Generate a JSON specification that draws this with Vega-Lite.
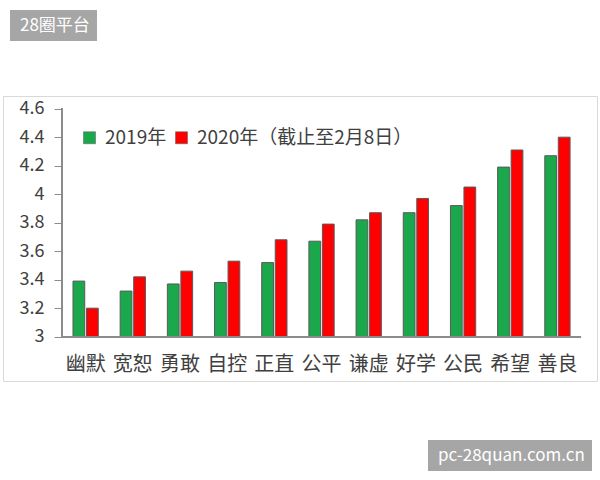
{
  "$schema": "https://vega.github.io/schema/vega-lite/v6.json",
  "width": 594,
  "height": 285,
  "autosize": {"type": "none"},
  "padding": {"left": 3, "top": 96, "right": 3, "bottom": 99},
  "background": "white",
  "config": {
    "font": "Noto Sans CJK SC",
    "view": {"stroke": "#d9d9d9", "strokeWidth": 1}
  },
  "data": {
    "values": [
      {"trait": "幽默", "year": "2019年", "value": 3.39},
      {"trait": "幽默", "year": "2020年（截止至2月8日）", "value": 3.20},
      {"trait": "宽恕", "year": "2019年", "value": 3.32},
      {"trait": "宽恕", "year": "2020年（截止至2月8日）", "value": 3.42},
      {"trait": "勇敢", "year": "2019年", "value": 3.37},
      {"trait": "勇敢", "year": "2020年（截止至2月8日）", "value": 3.46},
      {"trait": "自控", "year": "2019年", "value": 3.38},
      {"trait": "自控", "year": "2020年（截止至2月8日）", "value": 3.53},
      {"trait": "正直", "year": "2019年", "value": 3.52},
      {"trait": "正直", "year": "2020年（截止至2月8日）", "value": 3.68},
      {"trait": "公平", "year": "2019年", "value": 3.67},
      {"trait": "公平", "year": "2020年（截止至2月8日）", "value": 3.79},
      {"trait": "谦虚", "year": "2019年", "value": 3.82},
      {"trait": "谦虚", "year": "2020年（截止至2月8日）", "value": 3.87},
      {"trait": "好学", "year": "2019年", "value": 3.87},
      {"trait": "好学", "year": "2020年（截止至2月8日）", "value": 3.97},
      {"trait": "公民", "year": "2019年", "value": 3.92},
      {"trait": "公民", "year": "2020年（截止至2月8日）", "value": 4.05},
      {"trait": "希望", "year": "2019年", "value": 4.19},
      {"trait": "希望", "year": "2020年（截止至2月8日）", "value": 4.31},
      {"trait": "善良", "year": "2019年", "value": 4.27},
      {"trait": "善良", "year": "2020年（截止至2月8日）", "value": 4.40}
    ]
  },
  "encoding": {
    "x": {
      "field": "trait",
      "type": "nominal",
      "sort": null,
      "scale": {"paddingInner": 0, "paddingOuter": 0.795, "align": 0.787},
      "axis": {
        "orient": "bottom",
        "offset": -44,
        "domain": false,
        "ticks": false,
        "grid": false,
        "labelAngle": 0,
        "labelFontSize": 20,
        "labelColor": "#404040",
        "labelPadding": 17,
        "title": null
      }
    },
    "y": {
      "type": "quantitative",
      "scale": {"domain": [2.689, 4.689], "nice": false, "zero": false},
      "axis": {
        "orient": "left",
        "offset": -59,
        "values": [3, 3.2, 3.4, 3.6, 3.8, 4, 4.2, 4.4, 4.6],
        "format": "~g",
        "domain": false,
        "grid": false,
        "tickSize": 8,
        "tickColor": "#8c8c8c",
        "labelPadding": 10,
        "labelFontSize": 18,
        "labelColor": "#404040",
        "title": null
      }
    }
  },
  "resolve": {
    "scale": {"opacity": "independent"},
    "legend": {"opacity": "independent"}
  },
  "layer": [
    {
      "mark": {"type": "bar", "stroke": "#5a5a5a", "strokeWidth": 1},
      "encoding": {
        "y": {"field": "value", "type": "quantitative"},
        "y2": {"datum": 3},
        "xOffset": {
          "field": "year",
          "type": "nominal",
          "scale": {"paddingInner": 0.13, "paddingOuter": 0.81}
        },
        "color": {
          "field": "year",
          "type": "nominal",
          "scale": {
            "domain": ["2019年", "2020年（截止至2月8日）"],
            "range": ["#1BA84C", "#FF0000"]
          },
          "legend": {
            "orient": "none",
            "legendX": 77,
            "legendY": 32,
            "direction": "horizontal",
            "title": null,
            "symbolType": "square",
            "symbolSize": 144,
            "symbolStrokeColor": "#5a5a5a",
            "symbolStrokeWidth": 0.5,
            "labelFontSize": 19,
            "labelColor": "#404040",
            "labelOffset": 6,
            "columnPadding": 5,
            "labelLimit": 400,
            "padding": 0
          }
        }
      }
    },
    {
      "mark": {"type": "rule", "color": "#8c8c8c", "strokeWidth": 1},
      "encoding": {
        "x": {"datum": "幽默", "bandPosition": 0},
        "y": {"datum": 3},
        "y2": {"datum": 4.6},
        "opacity": {
          "datum": "28圈平台",
          "type": "ordinal",
          "scale": {"range": [1, 1]},
          "legend": {
            "orient": "none",
            "legendX": 7,
            "legendY": -86,
            "title": null,
            "fillColor": "#a6a6a6",
            "padding": 7,
            "symbolOpacity": 0,
            "symbolSize": 0,
            "labelOffset": -14,
            "labelColor": "white",
            "labelFontSize": 17,
            "labelLimit": 300
          }
        }
      }
    },
    {
      "mark": {"type": "rule", "color": "#8c8c8c", "strokeWidth": 1},
      "encoding": {
        "x": {"datum": "幽默", "bandPosition": 0},
        "x2": {"datum": "善良", "bandPosition": 1},
        "y": {"datum": 3},
        "opacity": {
          "datum": "pc-28quan.com.cn",
          "type": "ordinal",
          "scale": {"range": [1, 1]},
          "legend": {
            "orient": "none",
            "legendX": 425,
            "legendY": 344,
            "title": null,
            "fillColor": "#a6a6a6",
            "padding": 7,
            "symbolOpacity": 0,
            "symbolSize": 0,
            "labelOffset": -14,
            "labelColor": "white",
            "labelFontSize": 17,
            "labelLimit": 300
          }
        }
      }
    }
  ]
}
